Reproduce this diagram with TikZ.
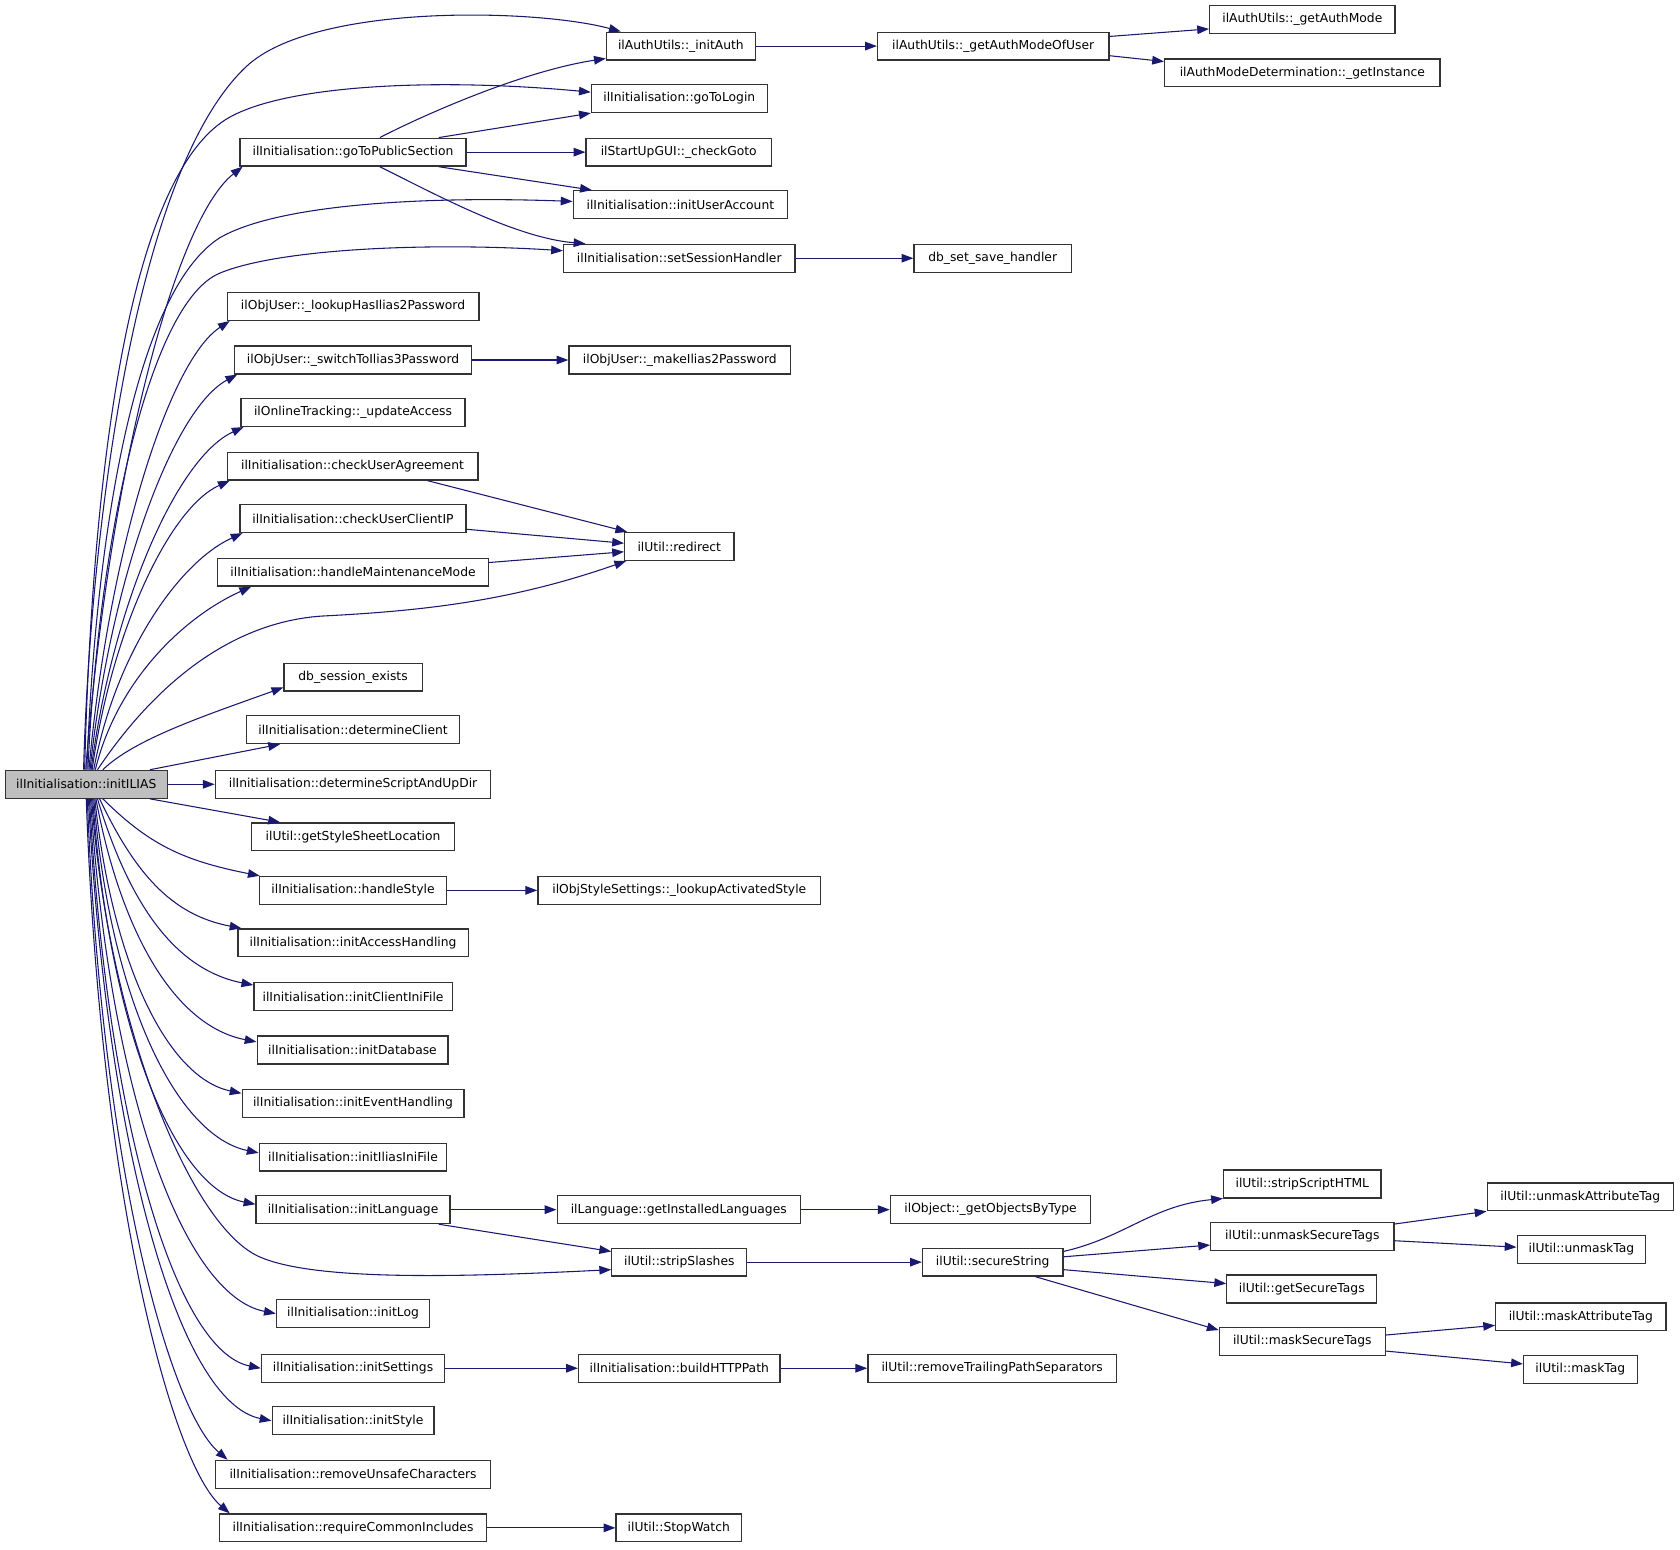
\documentclass[tikz,border=0pt]{standalone}
\usepackage{fontspec}
\newfontfamily\fnfont{DejaVu Sans}
\usetikzlibrary{arrows.meta}
\definecolor{edgeblue}{HTML}{191970}
\definecolor{rootgray}{HTML}{BFBFBF}
\definecolor{boxline}{HTML}{333333}
\tikzset{
  fn/.style={draw=boxline, line width=1.2pt, fill=white, minimum height=26pt, inner xsep=3pt, inner ysep=0pt,
    font={\fnfont\fontsize{11.5pt}{13pt}\selectfont}},
  call/.style={draw=edgeblue, line width=1pt, -{Triangle[length=11pt,width=8pt]}}
}
\begin{document}
\begin{tikzpicture}[x=1pt,y=-1pt]
\useasboundingbox (0,0) rectangle (1568,1446);
% nodes
\node[fn,fill=rootgray,minimum width=151pt] (initILIAS) at (80.5,732) {ilInitialisation::initILIAS};
\node[fn,minimum width=139pt] (initAuth) at (635.5,43) {ilAuthUtils::\_initAuth};
\node[fn,minimum width=216pt] (authModeOfUser) at (927,43) {ilAuthUtils::\_getAuthModeOfUser};
\node[fn,minimum width=173pt] (authMode) at (1215.5,18) {ilAuthUtils::\_getAuthMode};
\node[fn,minimum width=257pt] (authInstance) at (1215.5,68) {ilAuthModeDetermination::\_getInstance};
\node[fn,minimum width=164pt] (goToLogin) at (634,92) {ilInitialisation::goToLogin};
\node[fn,minimum width=211pt] (goToPublic) at (329.5,142) {ilInitialisation::goToPublicSection};
\node[fn,minimum width=173pt] (checkGoto) at (633.5,142) {ilStartUpGUI::\_checkGoto};
\node[fn,minimum width=200pt] (initUserAccount) at (635,191) {ilInitialisation::initUserAccount};
\node[fn,minimum width=216pt] (setSession) at (634,241) {ilInitialisation::setSessionHandler};
\node[fn,minimum width=147pt] (dbSave) at (926.5,241) {db\_set\_save\_handler};
\node[fn,minimum width=235pt] (lookupHas) at (329.5,286) {ilObjUser::\_lookupHasIlias2Password};
\node[fn,minimum width=221pt] (switchTo) at (329.5,336) {ilObjUser::\_switchToIlias3Password};
\node[fn,minimum width=207pt] (makeIlias) at (634.5,336) {ilObjUser::\_makeIlias2Password};
\node[fn,minimum width=209pt] (updateAccess) at (329.5,385) {ilOnlineTracking::\_updateAccess};
\node[fn,minimum width=234pt] (checkAgreement) at (329,435) {ilInitialisation::checkUserAgreement};
\node[fn,minimum width=211pt] (checkClientIP) at (329.5,484) {ilInitialisation::checkUserClientIP};
\node[fn,minimum width=253pt] (handleMaint) at (329.5,534) {ilInitialisation::handleMaintenanceMode};
\node[fn,minimum width=102pt] (redirect) at (634,510) {ilUtil::redirect};
\node[fn,minimum width=129pt] (dbSession) at (329.5,632) {db\_session\_exists};
\node[fn,minimum width=199pt] (determineClient) at (329.5,681) {ilInitialisation::determineClient};
\node[fn,minimum width=257pt] (determineScript) at (329.5,732) {ilInitialisation::determineScriptAndUpDir};
\node[fn,minimum width=189pt] (styleSheet) at (329.5,781) {ilUtil::getStyleSheetLocation};
\node[fn,minimum width=175pt] (handleStyle) at (329.5,831) {ilInitialisation::handleStyle};
\node[fn,minimum width=264pt] (lookupActivated) at (634,831) {ilObjStyleSettings::\_lookupActivatedStyle};
\node[fn,minimum width=215pt] (accessHandling) at (329.5,880) {ilInitialisation::initAccessHandling};
\node[fn,minimum width=185pt] (clientIni) at (329.5,930) {ilInitialisation::initClientIniFile};
\node[fn,minimum width=178pt] (initDatabase) at (329,980) {ilInitialisation::initDatabase};
\node[fn,minimum width=207pt] (eventHandling) at (329.5,1030) {ilInitialisation::initEventHandling};
\node[fn,minimum width=175pt] (iliasIni) at (329.5,1080) {ilInitialisation::initIliasIniFile};
\node[fn,minimum width=181pt] (initLanguage) at (329.5,1129) {ilInitialisation::initLanguage};
\node[fn,minimum width=227pt] (installedLang) at (633.5,1129) {ilLanguage::getInstalledLanguages};
\node[fn,minimum width=187pt] (objectsByType) at (924.5,1129) {ilObject::\_getObjectsByType};
\node[fn,minimum width=126pt] (stripSlashes) at (634,1178) {ilUtil::stripSlashes};
\node[fn,minimum width=131pt] (secureString) at (926.5,1178) {ilUtil::secureString};
\node[fn,minimum width=147pt] (stripScriptHTML) at (1215.5,1105) {ilUtil::stripScriptHTML};
\node[fn,minimum width=171pt] (unmaskSecure) at (1215.5,1154) {ilUtil::unmaskSecureTags};
\node[fn,minimum width=174pt] (unmaskAttr) at (1475,1117) {ilUtil::unmaskAttributeTag};
\node[fn,minimum width=120pt] (unmaskTag) at (1476,1166) {ilUtil::unmaskTag};
\node[fn,minimum width=140pt] (getSecureTags) at (1215,1203) {ilUtil::getSecureTags};
\node[fn,minimum width=155pt] (maskSecure) at (1215.5,1252) {ilUtil::maskSecureTags};
\node[fn,minimum width=159pt] (maskAttr) at (1475.5,1229) {ilUtil::maskAttributeTag};
\node[fn,minimum width=106pt] (maskTag) at (1475,1278) {ilUtil::maskTag};
\node[fn,minimum width=143pt] (initLog) at (329.5,1226) {ilInitialisation::initLog};
\node[fn,minimum width=171pt] (initSettings) at (329.5,1277) {ilInitialisation::initSettings};
\node[fn,minimum width=188pt] (buildHTTP) at (634,1277) {ilInitialisation::buildHTTPPath};
\node[fn,minimum width=232pt] (removeTrailing) at (926,1277) {ilUtil::removeTrailingPathSeparators};
\node[fn,minimum width=151pt] (initStyle) at (329.5,1326) {ilInitialisation::initStyle};
\node[fn,minimum width=257pt] (removeUnsafe) at (329.5,1376) {ilInitialisation::removeUnsafeCharacters};
\node[fn,minimum width=249pt] (requireCommon) at (329.5,1426) {ilInitialisation::requireCommonIncludes};
\node[fn,minimum width=117pt] (stopWatch) at (633.5,1426) {ilUtil::StopWatch};

% edges from initILIAS, upward
\draw[call] ([xshift=-2.5pt]initILIAS.north) .. controls (84,500) and (125,160) .. (230,62) .. controls (293,3) and (500,8) .. ([xshift=14pt]initAuth.north west);
\draw[call] ([xshift=-1.5pt]initILIAS.north) .. controls (86,440) and (120,170) .. (210,112) .. controls (260,80) and (400,72) .. ([yshift=6pt]goToLogin.west);
\draw[call] ([xshift=-0.5pt]initILIAS.north) .. controls (101,448) and (162,206) .. ([xshift=3pt]goToPublic.south west);
\draw[call] ([xshift=0.5pt]initILIAS.north) .. controls (90,480) and (130,270) .. (205,222) .. controls (260,190) and (400,183) .. ([yshift=3pt]initUserAccount.west);
\draw[call] ([xshift=1.5pt]initILIAS.north) .. controls (92,500) and (140,282) .. (205,255) .. controls (260,232) and (400,226) .. ([yshift=7pt]setSession.west);
\draw[call] ([xshift=2.5pt]initILIAS.north) .. controls (101,517) and (157,337) .. ([xshift=3pt]lookupHas.south west);
\draw[call] ([xshift=3.5pt]initILIAS.north) .. controls (103,541) and (161,382) .. ([xshift=3pt]switchTo.south west);
\draw[call] ([xshift=4.5pt]initILIAS.north) .. controls (105,565) and (165,427) .. ([xshift=3pt]updateAccess.south west);
\draw[call] ([xshift=5.5pt]initILIAS.north) .. controls (104,589) and (158,474) .. ([xshift=3pt]checkAgreement.south west);
\draw[call] ([xshift=7pt]initILIAS.north) .. controls (107,612) and (166,525) .. ([xshift=3pt]checkClientIP.south west);
\draw[call] ([xshift=8.5pt]initILIAS.north) .. controls (109,636) and (171,576) .. ([xshift=32pt]handleMaint.south west);
\draw[call] ([xshift=10.5pt]initILIAS.north) .. controls (130,660) and (200,582) .. (300,575) .. controls (400,570) and (480,560) .. ([xshift=2pt]redirect.south west);
\draw[call] ([xshift=15.5pt]initILIAS.north) .. controls (125,690) and (191,668) .. ([yshift=4pt]dbSession.south west);
\draw[call] ([xshift=59.5pt]initILIAS.north) -- ([xshift=32pt]determineClient.south west);
\draw[call] (initILIAS.east) -- (determineScript.west);
\draw[call] ([xshift=59.5pt]initILIAS.south) -- ([xshift=27pt]styleSheet.north west);

% edges from initILIAS, downward
\draw[call] ([xshift=15.5pt]initILIAS.south) .. controls (138,787) and (169,803) .. ([xshift=1pt]handleStyle.north west);
\draw[call] ([xshift=12.5pt]initILIAS.south) .. controls (126,815) and (160,854) .. ([xshift=4pt]accessHandling.north west);
\draw[call] ([xshift=10.5pt]initILIAS.south) .. controls (121,845) and (164,905) .. ([yshift=-3pt]clientIni.north west);
\draw[call] ([xshift=9pt]initILIAS.south) .. controls (114,875) and (165,958) .. ([yshift=-6pt]initDatabase.north west);
\draw[call] ([xshift=8pt]initILIAS.south) .. controls (105,902) and (157,1006) .. ([yshift=-4pt]eventHandling.north west);
\draw[call] ([xshift=7pt]initILIAS.south) .. controls (103,934) and (165,1060) .. ([yshift=4pt]iliasIni.west);
\draw[call] ([xshift=6pt]initILIAS.south) .. controls (102,961) and (163,1109) .. ([yshift=5pt]initLanguage.west);
\draw[call] ([xshift=5pt]initILIAS.south) .. controls (100,950) and (175,1140) .. (240,1172) .. controls (290,1196) and (430,1192) .. ([yshift=-7pt]stripSlashes.west);
\draw[call] ([xshift=4pt]initILIAS.south) .. controls (102,1019) and (171,1209) .. (initLog.west);
\draw[call] ([xshift=3pt]initILIAS.south) .. controls (100,1048) and (164,1261) .. (initSettings.west);
\draw[call] ([xshift=2pt]initILIAS.south) .. controls (100,1076) and (168,1309) .. (initStyle.west);
\draw[call] ([xshift=1pt]initILIAS.south) .. controls (95,1097) and (160,1318) .. ([xshift=12pt]removeUnsafe.north west);
\draw[call] (initILIAS.south) .. controls (94,1126) and (162,1368) .. ([xshift=10pt]requireCommon.north west);

% other edges
\draw[call] ([xshift=25pt]goToPublic.north) .. controls (400,105) and (490,66) .. ([yshift=2pt]initAuth.south west);
\draw[call] ([xshift=80pt]goToPublic.north) -- (goToLogin.south west);
\draw[call] (goToPublic.east) -- (checkGoto.west);
\draw[call] ([xshift=80pt]goToPublic.south) -- ([xshift=18pt]initUserAccount.north west);
\draw[call] ([xshift=25pt]goToPublic.south) .. controls (400,178) and (480,222) .. ([xshift=21pt]setSession.north west);
\draw[call] (initAuth.east) -- (authModeOfUser.west);
\draw[call] ([yshift=9pt]authModeOfUser.east) -- ([yshift=-9pt]authMode.west);
\draw[call] ([yshift=-9pt]authModeOfUser.east) -- ([yshift=-3pt]authInstance.north west);
\draw[call] (setSession.east) -- (dbSave.west);
\draw[call] (switchTo.east) -- (makeIlias.west);
\draw[call] ([xshift=70pt]checkAgreement.south) -- ([xshift=3pt]redirect.north west);
\draw[call] ([yshift=-10pt]checkClientIP.east) -- ([yshift=3pt]redirect.west);
\draw[call] ([yshift=9pt]handleMaint.east) -- ([yshift=-5pt]redirect.west);
\draw[call] (handleStyle.east) -- (lookupActivated.west);
\draw[call] (initLanguage.east) -- (installedLang.west);
\draw[call] ([xshift=80pt]initLanguage.south) -- ([yshift=10pt]stripSlashes.west);
\draw[call] (installedLang.east) -- (objectsByType.west);
\draw[call] (stripSlashes.east) -- (secureString.west);
\draw[call] ([yshift=10pt]secureString.east) .. controls (1050,1155) and (1075,1125) .. (stripScriptHTML.south west);
\draw[call] ([yshift=5pt]secureString.east) -- ([yshift=-8pt]unmaskSecure.west);
\draw[call] ([yshift=-7pt]secureString.east) -- ([yshift=5pt]getSecureTags.west);
\draw[call] ([xshift=40pt]secureString.south) -- ([yshift=-3pt]maskSecure.north west);
\draw[call] ([yshift=-2pt]unmaskSecure.north east) -- (unmaskAttr.south west);
\draw[call] ([yshift=-4pt]unmaskSecure.east) -- ([yshift=2pt]unmaskTag.west);
\draw[call] ([yshift=6pt]maskSecure.east) -- ([yshift=-8pt]maskAttr.west);
\draw[call] ([yshift=-9pt]maskSecure.east) -- ([yshift=5pt]maskTag.west);
\draw[call] (initSettings.east) -- (buildHTTP.west);
\draw[call] (buildHTTP.east) -- (removeTrailing.west);
\draw[call] (requireCommon.east) -- (stopWatch.west);
\end{tikzpicture}
\end{document}
